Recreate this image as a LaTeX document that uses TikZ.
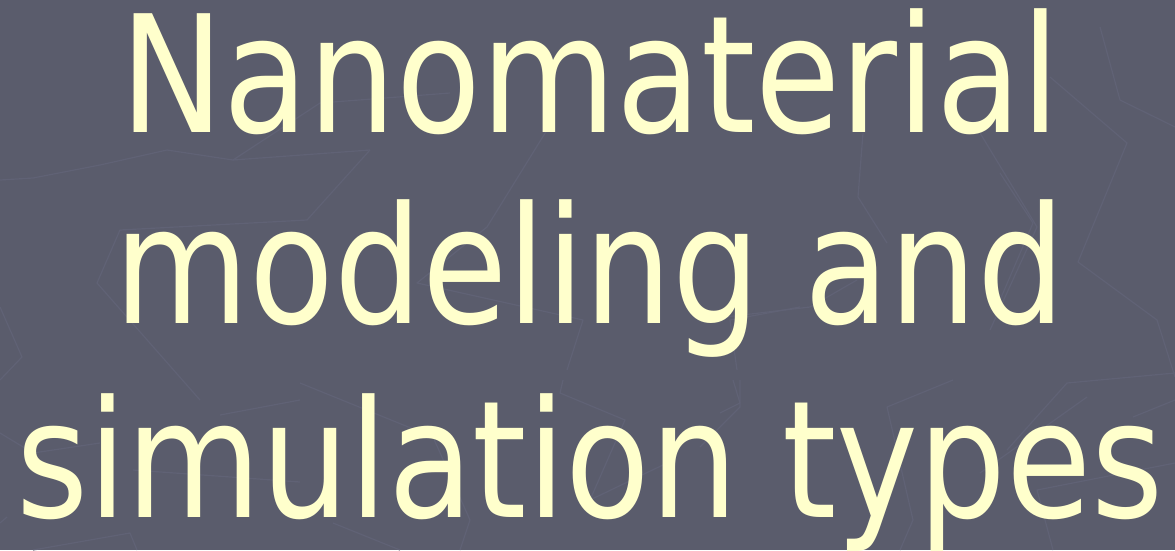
\documentclass[tikz,border=0pt]{standalone}
\usepackage{fontspec}
\setmainfont{DejaVu Sans}
\usepackage{tikz}

\definecolor{slidebg}{HTML}{5A5C6C}
\definecolor{webline}{HTML}{606275}
\definecolor{titletext}{HTML}{FFFFCC}

\begin{document}
\begin{tikzpicture}[x=1pt, y=-1pt,
  title/.style={anchor=base, text=titletext, inner sep=0pt, xscale=0.85,
    font=\fontsize{163}{190}\selectfont},
  web/.style={draw=webline, line width=1.2pt, line join=round}]
% Background
\fill[slidebg] (0,0) rectangle (1175,550);
\useasboundingbox (0,0) rectangle (1175,550);

% Faint web lines
\draw[web] (0,180) -- (33,178) -- (100,165) -- (167,150) -- (233,160) -- (370,150);
\draw[web] (233,160) -- (320,103) -- (450,93);
\draw[web] (370,150) -- (307,220) -- (120,230) -- (97,283) -- (200,400);
\draw[web] (0,307) -- (22,357) -- (0,380);
\draw[web] (547,130) -- (487,227) -- (417,283) -- (583,320) -- (567,370);
\draw[web] (800,307) -- (730,320) -- (737,370);
\draw[web] (863,133) -- (858,197) -- (887,243);
\draw[web] (980,133) -- (1037,227) -- (990,330);
\draw[web] (1050,77) -- (1127,143) -- (1078,262) -- (1157,320) -- (1175,377);
\draw[web] (1100,27) -- (1120,100) -- (1175,127);
\draw[web] (1000,173) -- (1033,223) -- (1000,300);
\draw[web] (700,320) -- (810,307) -- (857,280);
\draw[web] (1175,373) -- (1067,383) -- (1007,450);
\draw[web] (1133,417) -- (1175,400);
\draw[web] (300,383) -- (433,437) -- (470,520) -- (460,550);
\draw[web] (563,380) -- (560,393) -- (625,420) -- (590,500) -- (667,463);
\draw[web] (740,380) -- (740,407) -- (700,447);
\draw[web] (333,523) -- (400,550);
\draw[web] (733,380) -- (740,403) -- (720,413);
\draw[web] (953,380) -- (887,407) -- (913,520) -- (900,550);
\draw[web] (1175,463) -- (1037,490) -- (1053,550);
\draw[web] (980,473) -- (1087,397);
\draw[web] (0,433) -- (33,453) -- (100,443);
\draw[web] (133,470) -- (300,482);
\draw[web] (220,415) -- (300,400);
\draw[web] (0,523) -- (7,517);
\draw[web] (33,550) -- (130,533) -- (137,550);

% Title lines
\node[title] (line1) at (590,132) {Nanomaterial};
\node[title] (line2) at ([yshift=-191pt]line1.base) {modeling and};
\node[title] (line3) at ([yshift=-194pt]line2.base) {simulation types};
\end{tikzpicture}
\end{document}
